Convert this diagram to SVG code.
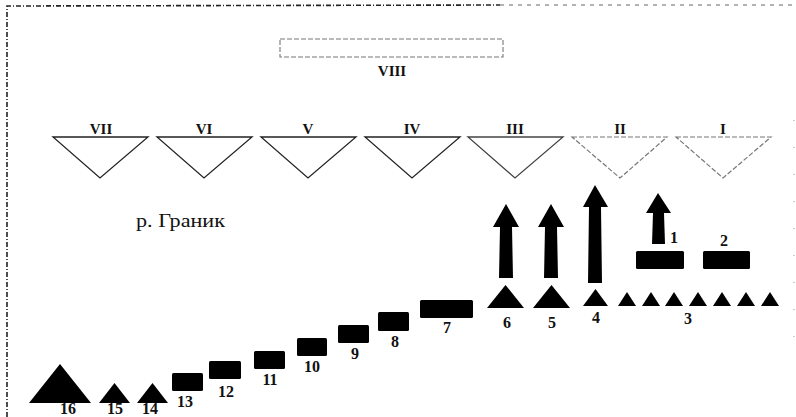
<svg xmlns="http://www.w3.org/2000/svg" width="796" height="417" viewBox="0 0 796 417">
<style>
.bg{fill:#fff}
.lbl{font-family:"Liberation Serif","DejaVu Serif",serif;font-weight:bold;font-size:16px;fill:#111;text-anchor:middle}
.rom{font-family:"Liberation Serif","DejaVu Serif",serif;font-weight:bold;font-size:15px;fill:#111;text-anchor:middle}
.river{font-family:"Liberation Serif","DejaVu Serif",serif;font-size:18px;fill:#111}
.tri{fill:none;stroke:#222;stroke-width:1.3;stroke-linejoin:miter}
.tri2{fill:none;stroke:#777;stroke-width:1.2;stroke-dasharray:5 2}
.blk{fill:#000}
.border{fill:none;stroke:#222;stroke-width:1.6;stroke-dasharray:5 2 1 2}
</style>
<rect class="bg" x="0" y="0" width="796" height="417"/>
<g id="border">
<path class="border" d="M7 417 L7 6 L500 5"/>
<path d="M500 5 L796 5" fill="none" stroke="#666" stroke-width="1.2" stroke-dasharray="4 5"/>
<path d="M794 120 L794 340" fill="none" stroke="#aaa" stroke-width="1.2" stroke-dasharray="1 26"/>
</g>
<g id="viii">
<rect x="280" y="39" width="223" height="18" fill="none" stroke="#777" stroke-width="1.1" stroke-dasharray="5 2"/>
<text class="rom" x="392" y="76">VIII</text>
</g>
<g id="vii"><polygon class="tri" points="53,137 148,137 100,178"/><text class="rom" x="101" y="134">VII</text></g>
<g id="vi"><polygon class="tri" points="157,137 252,137 204,178"/><text class="rom" x="204" y="134">VI</text></g>
<g id="v"><polygon class="tri" points="261,137 356,137 308,178"/><text class="rom" x="308" y="134">V</text></g>
<g id="iv"><polygon class="tri" points="365,137 460,137 412,178"/><text class="rom" x="412" y="134">IV</text></g>
<g id="iii"><polygon class="tri" points="468,137 563,137 515,178" style="stroke:#444"/><text class="rom" x="515" y="134">III</text></g>
<g id="ii"><polygon class="tri2" points="572,137 667,137 620,178"/><text class="rom" x="620" y="134">II</text></g>
<g id="i"><polygon class="tri2" points="676,137 771,137 723,178"/><text class="rom" x="723" y="134">I</text></g>
<g id="river"><text class="river" x="136" y="227" textLength="89" lengthAdjust="spacingAndGlyphs">р. Граник</text></g>
<g id="connectors">
<polygon class="blk" points="506,204 519,227 512,227 513,278 499,278 500,227 493,227"/>
<polygon class="blk" points="551,204 564,227 557,227 558,278 544,278 545,227 538,227"/>
<polygon class="blk" points="595,185 608,207 601,207 602,283 588,283 589,207 583,207"/>
<polygon class="blk" points="658,193 671,213 664,213 665,244 652,244 653,213 646,213"/>
</g>
<g id="n1"><rect class="blk" x="636" y="251" width="48" height="18" rx="1.5"/><text class="lbl" x="674" y="243">1</text></g>
<g id="n2"><rect class="blk" x="703" y="251" width="47" height="18" rx="1.5"/><text class="lbl" x="724" y="246">2</text></g>
<g id="n3">
<polygon class="blk" points="618,306 636,306 627,292"/>
<polygon class="blk" points="642,306 660,306 651,292"/>
<polygon class="blk" points="665,306 683,306 674,292"/>
<polygon class="blk" points="689,306 707,306 698,292"/>
<polygon class="blk" points="713,306 731,306 722,292"/>
<polygon class="blk" points="737,306 755,306 746,292"/>
<polygon class="blk" points="761,306 779,306 770,292"/>
<text class="lbl" x="688" y="324">3</text>
</g>
<g id="n4"><polygon class="blk" points="583,306 608,306 595.5,289"/><text class="lbl" x="596" y="323">4</text></g>
<g id="n5"><polygon class="blk" points="533,308 570,308 551.5,285"/><text class="lbl" x="552" y="328">5</text></g>
<g id="n6"><polygon class="blk" points="487,308 524,308 505.5,285"/><text class="lbl" x="507" y="328">6</text></g>
<g id="n7"><rect class="blk" x="420" y="300" width="53" height="18" rx="1.5"/><text class="lbl" x="447" y="333">7</text></g>
<g id="n8"><rect class="blk" x="378" y="312" width="31" height="19" rx="1.5"/><text class="lbl" x="395" y="347">8</text></g>
<g id="n9"><rect class="blk" x="338" y="325" width="31" height="18" rx="1.5"/><text class="lbl" x="355" y="359">9</text></g>
<g id="n10"><rect class="blk" x="297" y="338" width="30" height="18" rx="1.5"/><text class="lbl" x="312" y="372">10</text></g>
<g id="n11"><rect class="blk" x="254" y="351" width="31" height="18" rx="1.5"/><text class="lbl" x="270" y="385">11</text></g>
<g id="n12"><rect class="blk" x="209" y="361" width="32" height="18" rx="1.5"/><text class="lbl" x="226" y="397">12</text></g>
<g id="n13"><rect class="blk" x="172" y="373" width="31" height="18" rx="1.5"/><text class="lbl" x="185" y="407">13</text></g>
<g id="n14"><polygon class="blk" points="137,403 168,403 152.5,383"/><text class="lbl" x="150" y="414">14</text></g>
<g id="n15"><polygon class="blk" points="99,403 130,403 114.5,383"/><text class="lbl" x="115" y="414">15</text></g>
<g id="n16"><polygon class="blk" points="29,403 91,403 60,364"/><text class="lbl" x="68" y="414">16</text></g>
</svg>
